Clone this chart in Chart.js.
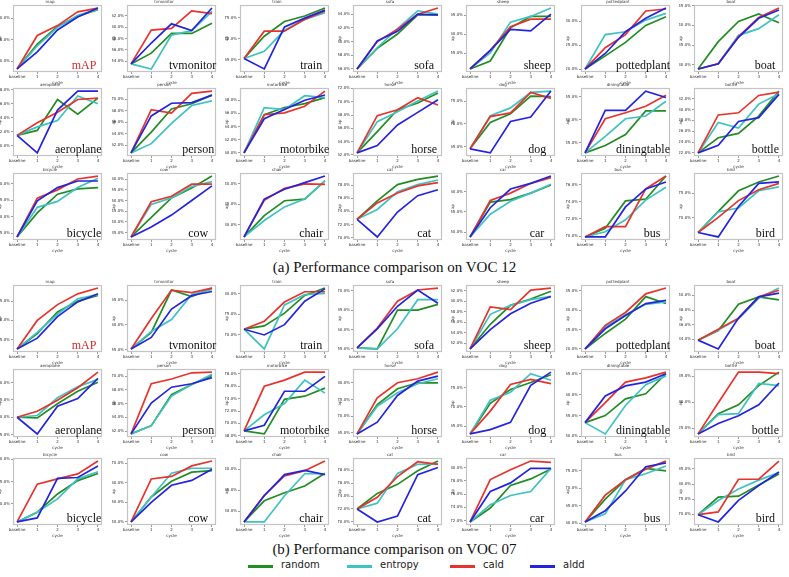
<!DOCTYPE html>
<html><head><meta charset="utf-8">
<script src="https://cdn.jsdelivr.net/npm/chart.js@4.4.0/dist/chart.umd.min.js"></script>
<style>
html,body{margin:0;padding:0;background:#fff;}
#root{position:relative;width:789px;height:577px;overflow:hidden;background:#fff;}
#root canvas{position:absolute;}
.big{position:absolute;font-family:"Liberation Serif","DejaVu Serif",serif;font-size:12px;line-height:12px;white-space:nowrap;color:#111;}
.cap{position:absolute;left:0;width:789px;text-align:center;font-family:"Liberation Serif","DejaVu Serif",serif;font-size:15px;line-height:18px;color:#111;}
.legline{position:absolute;width:25px;height:3px;}
.legtxt{position:absolute;font-family:"DejaVu Sans",sans-serif;font-size:10px;line-height:12px;color:#222;white-space:nowrap;}
</style></head><body><div id="root"></div>
<script>
// ---------- data ----------
const classes = ['mAP','tvmonitor','train','sofa','sheep','pottedplant','boat',
  'aeroplane','person','motorbike','horse','dog','diningtable','bottle',
  'bicycle','cow','chair','cat','car','bus','bird'];
const titles = ['map','tvmonitor','train','sofa','sheep','pottedplant','boat',
  'aeroplane','person','motorbike','horse','dog','diningtable','bottle',
  'bicycle','cow','chair','cat','car','bus','bird'];
const cycleLabels = ['baseline','1','2','3','4'];
const methods = ['random','entropy','cald','aldd'];
const captions = ['(a) Performance comparison on VOC 12','(b) Performance comparison on VOC 07'];

// VOC 12 (values in %)
const voc12Random = [
 [48.2,54.0,58.1,60.5,62.0],[53.5,55.4,58.9,58.9,60.7],[65.3,70.6,74.1,75.4,77.3],[56.0,59.0,61.1,63.9,63.9],
 [50.9,53.0,61.7,64.7,64.7],[20.1,22.8,25.6,29.1,30.9],[29.0,35.9,41.0,42.9,40.7],
 [71.5,72.2,76.6,74.5,76.8],[60.7,64.3,68.3,69.2,70.7],[60.0,65.8,66.9,67.5,68.4],[62.3,65.5,68.8,69.8,71.3],
 [64.5,70.3,72.2,76.1,76.0],[42.8,44.4,46.8,51.9,51.9],[22.0,24.8,25.6,28.8,33.4],
 [53.9,61.2,66.9,68.5,68.9],[33.0,42.1,51.2,55.8,61.4],[27.0,32.2,35.8,36.2,40.6],[72.8,75.6,78.1,78.9,79.4],
 [48.8,57.4,58.0,59.6,61.6],[69.9,70.9,74.1,74.3,77.0],[67.0,71.3,75.5,77.3,78.5]];
const voc12Entropy = [
 [48.2,53.6,57.9,60.7,62.1],[53.5,52.6,58.6,59.4,62.8],[65.3,67.0,72.0,74.6,76.2],[56.0,59.1,61.9,64.5,64.0],
 [50.9,55.1,63.2,64.7,66.9],[20.1,27.2,27.8,30.2,31.6],[29.0,30.3,37.5,39.2,42.7],
 [71.5,72.7,73.6,77.1,76.0],[60.7,62.3,65.8,68.9,69.7],[60.0,66.9,66.6,68.7,68.4],[62.3,67.0,68.5,70.1,71.6],
 [64.5,71.8,73.5,76.9,77.2],[42.8,46.4,50.2,50.8,54.0],[22.0,27.6,26.6,31.0,32.9],
 [53.9,62.9,64.7,68.9,71.7],[33.0,48.2,51.2,56.5,58.8],[27.0,31.0,34.3,36.2,40.7],[72.8,74.3,77.0,78.1,78.8],
 [48.8,54.4,57.6,59.6,61.8],[69.9,70.5,71.9,74.2,75.7],[67.0,71.2,72.0,75.5,76.3]];
const voc12Cald = [
 [48.2,56.0,58.3,61.5,62.4],[53.5,59.5,59.8,62.9,62.4],[65.3,71.8,71.8,74.6,76.6],[56.0,60.0,61.8,64.0,64.9],
 [50.9,55.8,62.0,64.0,64.0],[20.1,24.5,27.2,32.1,32.5],[29.0,30.3,37.2,42.0,44.4],
 [71.5,73.3,74.8,76.6,76.8],[60.7,68.2,67.6,71.0,71.4],[60.0,65.8,66.1,67.1,69.4],[62.3,67.9,68.8,70.6,69.5],
 [64.5,71.6,72.4,76.9,75.6],[42.8,50.2,51.5,52.9,55.3],[22.0,29.0,29.4,32.6,33.2],
 [53.9,65.7,68.2,71.5,72.4],[33.0,49.4,52.0,57.6,57.6],[27.0,35.9,38.8,39.9,39.8],[72.8,75.3,76.8,77.9,78.4],
 [48.8,57.8,59.6,62.0,63.4],[69.9,71.1,71.1,75.5,77.0],[67.0,70.1,73.5,75.7,77.0]];
const voc12Aldd = [
 [48.2,52.2,57.3,60.3,62.4],[53.5,57.2,60.6,59.4,63.4],[65.3,62.8,72.8,74.9,76.8],[56.0,60.1,61.5,64.0,63.9],
 [50.9,55.8,61.3,60.9,65.3],[20.1,23.3,27.8,30.6,32.7],[29.0,30.3,37.0,41.8,43.9],
 [71.5,69.0,75.1,77.8,77.8],[60.7,67.1,69.3,69.4,70.7],[60.0,65.2,66.6,68.0,68.8],[62.3,63.4,66.5,68.4,70.3],
 [64.5,63.6,70.5,71.5,77.2],[42.8,52.0,52.0,56.2,54.8],[22.0,23.4,27.8,28.5,32.8],
 [53.9,64.9,68.9,70.9,70.9],[33.0,37.6,43.2,50.0,56.8],[27.0,36.2,38.6,40.2,41.8],[72.8,70.1,73.9,76.4,77.3],
 [48.8,56.0,60.6,62.0,63.8],[69.9,69.9,73.4,75.5,76.3],[67.0,66.1,72.3,77.0,77.3]];

// VOC 07 (values in %)
const voc07Random = [
 [52.6,56.6,62.2,65.0,66.5],[55.2,58.5,67.0,65.7,67.4],[71.4,72.2,75.3,79.6,81.4],[55.3,55.0,65.0,65.0,66.5],
 [50.9,55.6,59.2,60.4,61.9],[20.0,24.0,27.7,33.5,31.7],[33.9,35.2,38.8,39.8,39.4],
 [60.0,59.8,63.9,67.5,70.1],[61.6,62.8,67.3,68.8,70.1],[68.8,68.3,73.9,74.4,75.7],[64.7,73.5,78.2,80.0,80.0],
 [63.0,70.9,74.5,76.3,78.3],[53.3,55.0,59.0,60.2,65.0],[23.9,27.8,29.5,33.2,35.8],
 [65.9,68.1,72.2,75.2,76.8],[40.0,52.8,60.8,65.5,66.3],[27.5,32.5,34.4,36.0,39.0],[72.0,74.4,75.8,77.9,79.4],
 [71.8,73.9,77.3,78.3,79.8],[60.4,66.9,72.4,75.6,74.9],[69.9,75.7,76.0,79.7,83.3]];
const voc07Entropy = [
 [52.6,56.9,61.6,65.6,66.7],[55.2,58.7,61.1,66.1,67.1],[71.4,66.6,77.3,79.8,80.1],[55.3,55.0,60.2,67.7,67.7],
 [50.9,57.5,59.2,60.3,60.9],[20.0,25.7,28.8,31.5,32.1],[33.9,35.3,36.8,39.6,41.0],
 [60.0,60.5,65.6,68.8,70.9],[61.6,62.8,67.1,68.8,70.3],[68.8,71.4,73.2,77.0,74.9],[64.7,73.0,77.0,79.7,81.2],
 [63.0,71.7,73.8,78.6,76.9],[53.3,50.6,57.4,62.4,64.5],[23.9,27.6,27.8,33.6,33.2],
 [65.9,68.1,71.1,75.6,77.2],[40.0,52.8,65.0,67.5,67.5],[27.5,27.5,33.7,38.9,38.9],[72.0,72.9,77.5,78.9,79.0],
 [71.8,74.4,75.8,76.4,79.9],[60.4,62.7,72.4,74.1,76.3],[69.9,74.6,78.4,81.3,83.8]];
const voc07Cald = [
 [52.6,60.0,64.1,66.9,68.4],[55.2,61.3,67.0,66.5,67.4],[71.4,73.3,78.0,80.5,80.5],[55.3,60.4,67.3,70.2,70.7],
 [50.9,58.9,58.4,62.1,62.5],[20.0,26.1,29.4,34.2,35.7],[33.9,35.4,36.9,39.8,40.7],
 [60.0,61.7,64.9,68.5,73.0],[61.6,68.9,69.6,70.5,70.6],[68.8,76.0,77.0,78.3,78.3],[64.7,75.5,80.0,81.2,83.2],
 [63.0,68.9,75.8,77.1,76.0],[53.3,58.1,63.0,64.0,65.4],[23.9,29.9,35.8,35.8,35.5],
 [65.9,74.4,75.6,76.7,79.6],[40.0,62.0,63.3,68.7,71.2],[27.5,33.8,38.4,39.6,41.9],[72.0,73.8,77.0,79.3,78.9],
 [71.8,78.2,79.7,81.0,80.8],[60.4,68.0,72.4,75.4,77.7],[69.9,70.8,81.6,81.6,87.6]];
const voc07Aldd = [
 [52.6,55.4,61.0,64.8,66.9],[55.2,57.5,63.2,65.9,66.7],[71.4,70.0,72.5,78.2,81.2],[55.3,60.2,66.0,70.2,66.8],
 [50.9,54.6,57.6,59.6,60.9],[20.0,25.2,28.6,31.7,32.5],[33.9,32.7,36.9,39.8,40.3],
 [60.0,55.2,63.2,65.4,71.2],[61.6,66.1,68.4,68.9,69.8],[68.8,69.7,75.2,75.2,77.6],[64.7,68.2,76.2,80.5,82.0],
 [63.0,64.1,66.0,75.6,79.0],[53.3,59.7,62.1,63.0,65.0],[23.9,25.9,27.4,29.5,33.7],
 [65.9,66.8,75.7,75.9,78.5],[40.0,50.0,58.8,61.3,67.0],[27.5,33.7,38.7,39.7,38.7],[72.0,70.0,70.9,77.3,78.4],
 [71.8,76.4,77.7,79.9,79.9],[60.4,63.6,69.2,76.1,77.2],[69.9,67.5,74.6,79.5,84.0]];

// ---------- styling / layout ----------
const colors = ['#238c23','#3fc2c2','#e8322c','#2424e0'];
const colLefts = [13,127,240,353,466,581,694];
const panelW = 89;
const rowTops = [[5,88,173],[285,369,458]];
const panelH = 67;
const captionTops = [258,540];
const legendLefts = [248,347,450,530];
const legendY = 566;

Chart.defaults.font.family = '"DejaVu Sans", sans-serif';
const root = document.getElementById('root');

const framePlugin = {
  id:'frame',
  beforeDatasetsDraw(ch){
    const a = ch.chartArea, c = ch.ctx;
    c.save();
    c.strokeStyle = '#c4c4c4';
    c.lineWidth = 1.2;
    c.strokeRect(Math.round(a.left)+0.5, Math.round(a.top)+0.5,
                 Math.round(a.right-a.left)-1, Math.round(a.bottom-a.top)-1);
    c.restore();
  }
};

function makePanel(L, T, W, H, title, label, series, labelColor){
  const padL = 15, padT = 7, padB = 13, padR = 3;
  const cv = document.createElement('canvas');
  cv.width = W + padL + padR; cv.height = H + padT + padB;
  cv.style.left = (L - padL) + 'px'; cv.style.top = (T - padT) + 'px';
  cv.style.width = cv.width + 'px'; cv.style.height = cv.height + 'px';
  root.appendChild(cv);
  const all = series.flat();
  const lo = Math.min(...all), hi = Math.max(...all), r = hi - lo;
  const chart = new Chart(cv, {
    type:'line',
    data:{datasets: methods.map((m,k)=>({
      label:m,
      data: series[k].map((v,i)=>({x:i,y:v})),
      borderColor: colors[k], backgroundColor: colors[k],
      borderWidth:1.7, pointRadius:0, fill:false, tension:0,
      order: 3-k
    }))},
    options:{
      responsive:false, animation:false, devicePixelRatio:1, events:[],
      layout:{padding:{left:0,right:padR,top:0,bottom:0}},
      plugins:{
        legend:{display:false}, tooltip:{enabled:false},
        title:{display:true, text:title, font:{size:4, weight:'normal'}, color:'#333', padding:{top:1.2,bottom:1}}
      },
      scales:{
        x:{type:'linear', min:-0.2, max:4.2,
          afterFit(s){ s.height = padB; },
          ticks:{stepSize:1, includeBounds:false, autoSkip:false, maxRotation:0, font:{size:4}, color:'#333', padding:1,
            callback:(v)=> Number.isInteger(v) ? cycleLabels[v] : ''},
          grid:{display:true, drawOnChartArea:false, tickLength:2, color:'#999'},
          border:{display:false},
          title:{display:true, text:'cycle', font:{size:4}, color:'#333', padding:0}
        },
        y:{min: lo - 0.05*r, max: hi + 0.05*r,
          afterFit(s){ s.width = padL; },
          ticks:{includeBounds:false, maxTicksLimit:8, font:{size:4}, color:'#333', padding:1,
            callback:(v)=> v.toFixed(1) + '%'},
          grid:{display:true, drawOnChartArea:false, tickLength:2, color:'#999'},
          border:{display:false},
          title:{display:true, text:'ap', font:{size:4}, color:'#333', padding:0}
        }
      }
    },
    plugins:[framePlugin]
  });
  // big label inside the plot, bottom-right
  const a = chart.chartArea;
  const d = document.createElement('div');
  d.className = 'big';
  d.textContent = label;
  d.style.color = labelColor;
  root.appendChild(d);
  const w = d.offsetWidth;
  const pw = a.right - a.left;
  const x0 = (L - padL) + a.left;
  const left = x0 + Math.min(0.8*pw - w/2, pw - w);
  const baseY = (T - padT) + a.bottom - 3;
  d.style.left = left + 'px';
  d.style.top = (baseY - 10) + 'px';
}

const groups = [
  [voc12Random, voc12Entropy, voc12Cald, voc12Aldd],
  [voc07Random, voc07Entropy, voc07Cald, voc07Aldd]
];

groups.forEach((g, gi)=>{
  classes.forEach((cls, ci)=>{
    const row = Math.floor(ci/7), col = ci % 7;
    const series = g.map(arr=>arr[ci]);
    makePanel(colLefts[col], rowTops[gi][row], panelW, panelH + (row===1?1:0),
      titles[ci], cls, series, cls==='mAP' ? '#d42a2a' : '#111');
  });
  const cap = document.createElement('div');
  cap.className = 'cap';
  cap.textContent = captions[gi];
  cap.style.top = captionTops[gi] + 'px';
  root.appendChild(cap);
});

methods.forEach((m,k)=>{
  const ln = document.createElement('div');
  ln.className = 'legline';
  ln.style.left = legendLefts[k] + 'px';
  ln.style.top = (legendY - 1.5) + 'px';
  ln.style.background = colors[k];
  root.appendChild(ln);
  const t = document.createElement('div');
  t.className = 'legtxt';
  t.textContent = m;
  t.style.left = (legendLefts[k] + 33) + 'px';
  t.style.top = (legendY - 7) + 'px';
  root.appendChild(t);
});
</script>
</body></html>
